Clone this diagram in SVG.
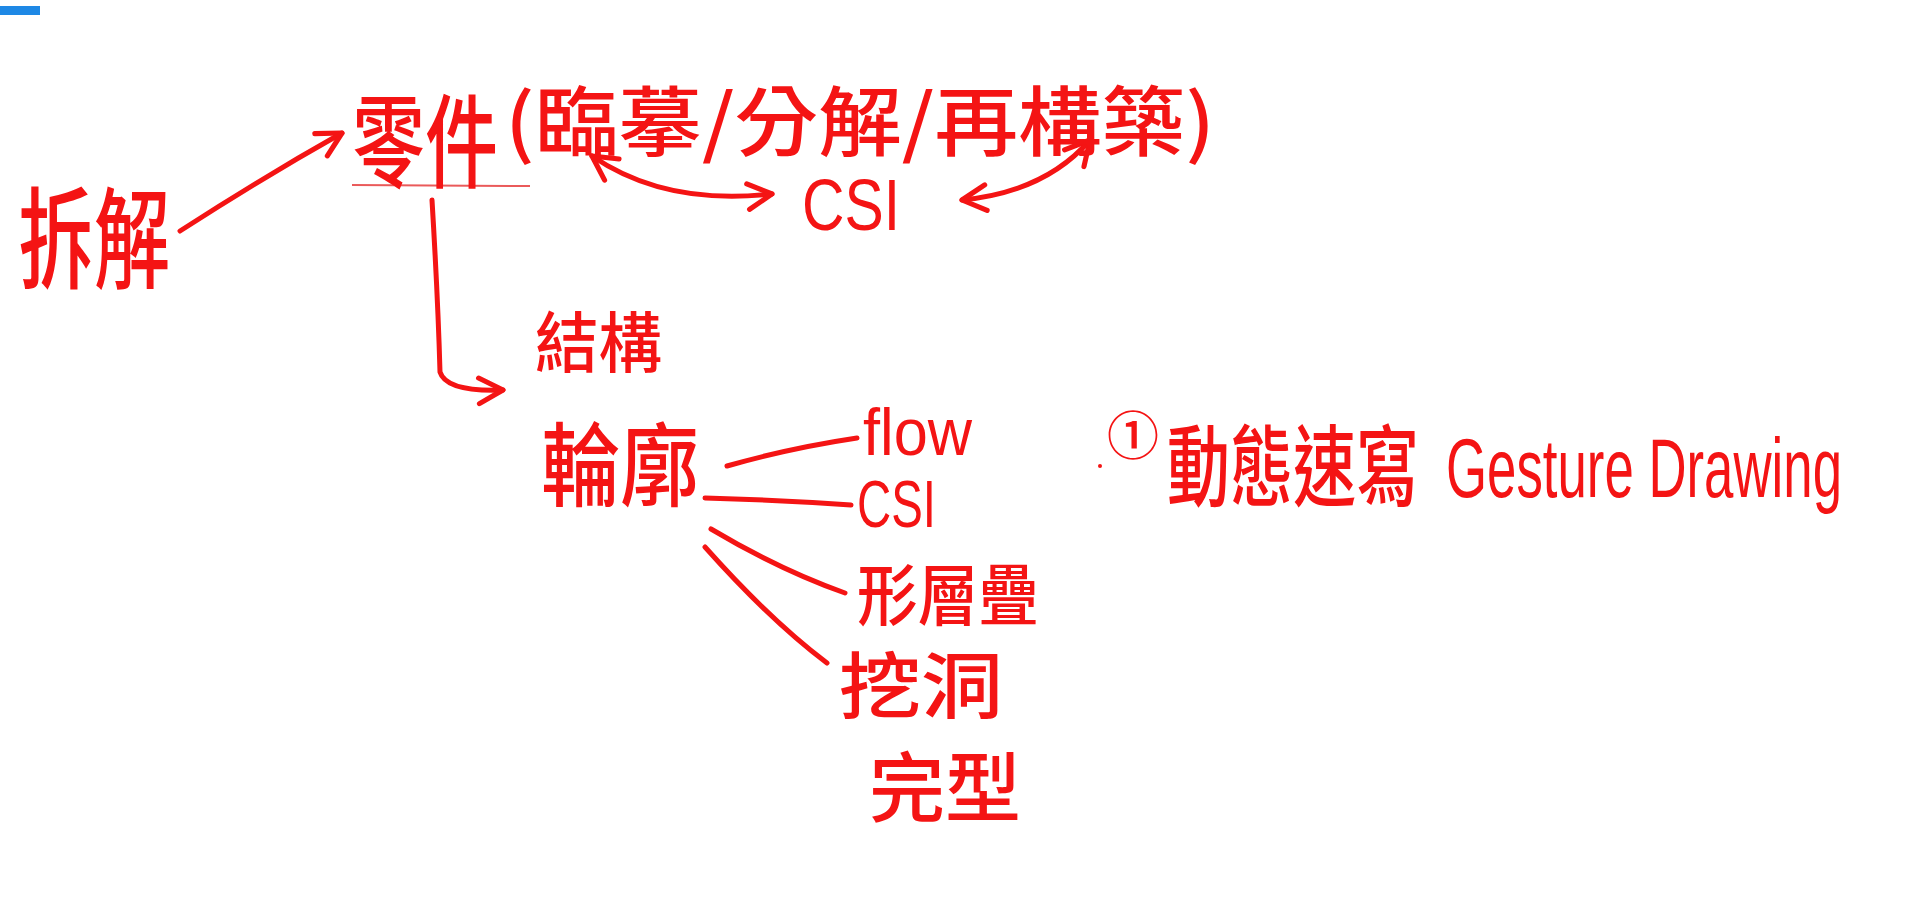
<svg xmlns="http://www.w3.org/2000/svg" width="1906" height="910" viewBox="0 0 1906 910">
<defs>
<style>
.t{fill:#f41414;font-family:"Noto Sans CJK TC","Liberation Sans",sans-serif;font-weight:500}
.l{fill:#f41414;font-family:"Liberation Sans","Noto Sans CJK TC",sans-serif}
.c{fill:none;stroke:#f41414;stroke-width:5;stroke-linecap:round;stroke-linejoin:round}
</style>
<marker id="ah" viewBox="0 0 10 10" markerUnits="userSpaceOnUse" markerWidth="32" markerHeight="32" refX="9" refY="5" orient="auto-start-reverse">
<path d="M1.5,1 L9,5 L1.5,9" fill="none" stroke="#f41414" stroke-width="1.6" stroke-linecap="round" stroke-linejoin="round"/>
</marker>
</defs>
<rect width="1906" height="910" fill="#ffffff"/>
<rect x="0" y="6" width="40" height="9" fill="#1e88e5"/>

<g id="connectors">
<path class="c" d="M180,231 Q262,178 342,133" marker-end="url(#ah)"/>
<path d="M352,185 L530,186" fill="none" stroke="#ea5a5a" stroke-width="2"/>
<path class="c" d="M592,156 Q665,206 772,194" marker-start="url(#ah)" marker-end="url(#ah)"/>
<path class="c" d="M962,200 Q1045,192 1090,140" marker-start="url(#ah)" marker-end="url(#ah)"/>
<path class="c" d="M432,200 Q438,300 440,372 Q446,392 503,390" marker-end="url(#ah)"/>
<path class="c" d="M727,466 Q790,448 857,438"/>
<path class="c" d="M705,498 Q780,500 851,505"/>
<path class="c" d="M711,529 Q780,570 845,593"/>
<path class="c" d="M705,547 Q770,620 827,663"/>
</g>

<g id="chaijie"><text class="t" transform="translate(18,280) scale(1,1.45)" font-size="76" textLength="152" lengthAdjust="spacingAndGlyphs">拆解</text></g>
<g id="lingjian"><text class="t" transform="translate(352,180) scale(1,1.4)" font-size="73" textLength="146" lengthAdjust="spacingAndGlyphs">零件</text></g>
<g id="methods"><text class="t" x="505" y="150" font-size="76" textLength="710" lengthAdjust="spacingAndGlyphs">(臨摹/分解/再構築)</text></g>
<g id="csi-top"><text class="l" x="802" y="230" font-size="72" textLength="98" lengthAdjust="spacingAndGlyphs">CSI</text></g>
<g id="jiegou"><text class="t" x="535" y="367" font-size="66" textLength="127" lengthAdjust="spacingAndGlyphs">結構</text></g>
<g id="lunkuo"><text class="t" transform="translate(541,499) scale(1,1.15)" font-size="79" textLength="158" lengthAdjust="spacingAndGlyphs">輪廓</text></g>
<g id="flow"><text class="l" x="863" y="455" font-size="66" textLength="109" lengthAdjust="spacingAndGlyphs">flow</text></g>
<g id="csi"><text class="l" x="857" y="527" font-size="66" textLength="79" lengthAdjust="spacingAndGlyphs">CSI</text></g>
<g id="xingcengdie"><text class="t" transform="translate(857,620) scale(1,1.1)" font-size="61" textLength="182" lengthAdjust="spacingAndGlyphs">形層疊</text></g>
<g id="wadong"><text class="t" x="839" y="712" font-size="72" textLength="164" lengthAdjust="spacingAndGlyphs">挖洞</text></g>
<g id="wanxing"><text class="t" x="869" y="816" font-size="76" textLength="152" lengthAdjust="spacingAndGlyphs">完型</text></g>
<g id="gesture">
<circle cx="1100" cy="466" r="2" fill="#f41414"/>
<text class="t" x="1107" y="455" font-size="52">①</text>
<text class="t" transform="translate(1167,499) scale(1,1.4)" font-size="63" textLength="252" lengthAdjust="spacingAndGlyphs">動態速寫</text>
<text class="l" transform="translate(1446,497) scale(1,1.45)" font-size="58" textLength="396" lengthAdjust="spacingAndGlyphs">Gesture Drawing</text>
</g>
</svg>
